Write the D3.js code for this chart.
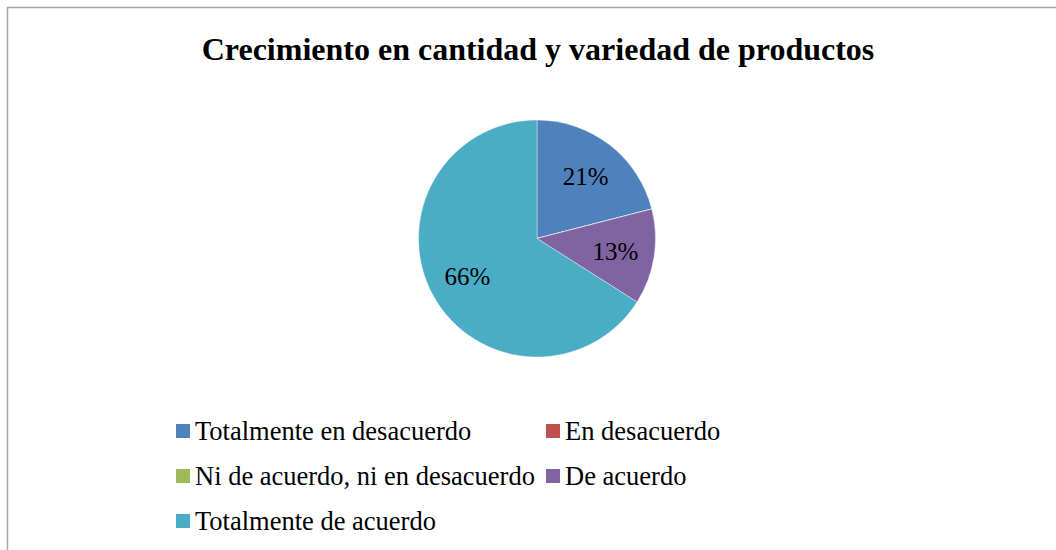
<!DOCTYPE html>
<html>
<head>
<meta charset="utf-8">
<script src="https://cdn.jsdelivr.net/npm/d3@7"></script>
<style>
  body { margin: 0; background: #fff; }
  svg text { font-family: "Liberation Serif", "Times New Roman", serif; }
</style>
</head>
<body>
<div class="pie-chart"></div>
<script>
// data
const categories = ["Totalmente en desacuerdo", "En desacuerdo", "Ni de acuerdo, ni en desacuerdo", "De acuerdo", "Totalmente de acuerdo"];
const values = [21, 0, 0, 13, 66];
const colors = ["#4F81BD", "#C0504D", "#9BBB59", "#8064A2", "#4BACC6"];
const title = "Crecimiento en cantidad y variedad de productos";

const width = 1056;
const height = 550;

const svg = d3.select(".pie-chart")
    .append("svg")
    .attr("width", width)
    .attr("height", height);

// chart frame
svg.append("rect")
    .attr("x", 7.5)
    .attr("y", 7.5)
    .attr("width", width + 10)
    .attr("height", height + 10)
    .attr("fill", "none")
    .attr("stroke", "#a6a6a6")
    .attr("stroke-width", 1.5);

// title
svg.append("text")
    .attr("x", 538)
    .attr("y", 60)
    .attr("text-anchor", "middle")
    .attr("font-size", 32)
    .attr("font-weight", "bold")
    .text(title);

const data = categories.map((c, i) => ({ name: c, value: values[i], color: colors[i] }));

const cx = 537, cy = 238.5, r = 118.5;

const pie = d3.pie().sort(null).value(d => d.value);
const arc = d3.arc().innerRadius(0).outerRadius(r);
const labelArc = d3.arc().innerRadius(r * 0.67).outerRadius(r * 0.67);

const g = svg.append("g").attr("transform", "translate(" + cx + "," + cy + ")");

const arcs = pie(data);

g.selectAll("path")
    .data(arcs)
    .join("path")
    .attr("d", arc)
    .attr("fill", d => d.data.color)
    .attr("stroke", "#ffffff")
    .attr("stroke-opacity", 0.5)
    .attr("stroke-width", 0.75);

g.selectAll("text.label")
    .data(arcs.filter(d => d.data.value > 0))
    .join("text")
    .attr("class", "label")
    .attr("transform", d => "translate(" + labelArc.centroid(d) + ")")
    .attr("text-anchor", "middle")
    .attr("dy", "0.35em")
    .attr("font-size", 25)
    .text(d => d.data.value + "%");

// legend
const legendX = [176, 546];
const legendY = [431, 476, 521];

const legend = svg.selectAll("g.legend")
    .data(data)
    .join("g")
    .attr("class", "legend")
    .attr("transform", (d, i) => "translate(" + legendX[i % 2] + "," + legendY[Math.floor(i / 2)] + ")");

legend.append("rect")
    .attr("x", 0)
    .attr("y", -7)
    .attr("width", 14)
    .attr("height", 14)
    .attr("fill", d => d.color);

legend.append("text")
    .attr("x", 19)
    .attr("y", 0)
    .attr("dy", "0.35em")
    .attr("font-size", 26.5)
    .text(d => d.name);
</script>
</body>
</html>
